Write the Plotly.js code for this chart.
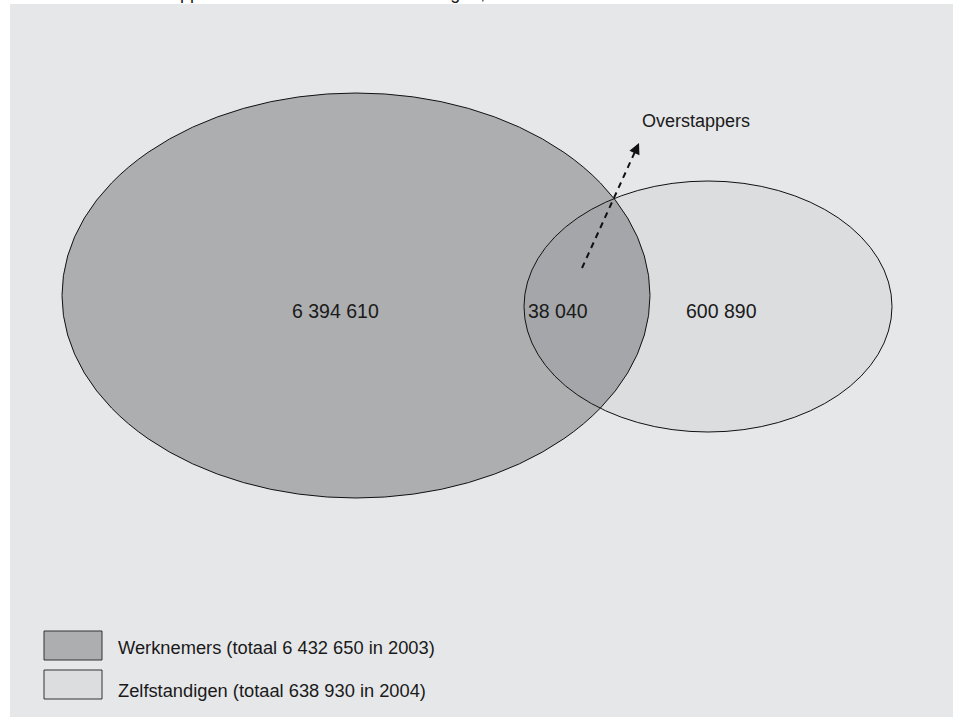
<!DOCTYPE html>
<html>
<head>
<meta charset="utf-8">
<script src="https://cdn.plot.ly/plotly-3.0.1.min.js"></script>
<style>
  html, body { margin: 0; padding: 0; background: #ffffff; }
  #chart { width: 953px; height: 717px; }
</style>
</head>
<body>
<div id="chart"></div>
<script>
// ---------- data ----------
const setNames = ['Werknemers', 'Zelfstandigen'];
const setTotals = [6432650, 638930];
const setYears = [2003, 2004];
// regions: only werknemers, both (overstappers), only zelfstandigen
const regionValues = [6394610, 38040, 600890];
const arrowLabel = 'Overstappers';
const chartTitle = 'Schema 3.1 Overstappers werknemers naar zelfstandigen, 2003 en 2004';

// ---------- geometry / styling (page-pixel coordinates) ----------
const geom = {
  big:   { x0: 62,  x1: 650, y0: 93,  y1: 498 },
  small: { x0: 524, x1: 892, y0: 181, y1: 432 },
  labelPos: [[335, 311], [558, 311], [721, 311]],
  arrowTail: [582, 268],
  arrowHead: [639, 143],
  arrowLabelPos: [696, 121],
  legendBoxes: [
    { x0: 44, x1: 102, y0: 631, y1: 660 },
    { x0: 44, x1: 102, y0: 670, y1: 699 }
  ],
  legendTextX: 116,
  legendTextY: [647, 690]
};
const colors = {
  bg: '#e6e7e9', big: '#adaeb0', small: '#dcdddf', overlap: '#a4a6a9',
  line: '#111111', text: '#1a1a1a'
};
const FONT = 'Liberation Sans, Arial, Helvetica, sans-serif';

function fmt(n) { return String(n).replace(/\B(?=(\d{3})+(?!\d))/g, ' '); }

function ell(e) {
  return { cx: (e.x0 + e.x1) / 2, cy: (e.y0 + e.y1) / 2, a: (e.x1 - e.x0) / 2, b: (e.y1 - e.y0) / 2 };
}
function inside(E, x, y) {
  const dx = (x - E.cx) / E.a, dy = (y - E.cy) / E.b;
  return dx * dx + dy * dy <= 1;
}
// overlap polygon (intersection of two convex ellipses)
const EB = ell(geom.big), ES = ell(geom.small);
let pts = [];
const N = 1440;
for (let i = 0; i < N; i++) {
  const t = 2 * Math.PI * i / N;
  const xb = EB.cx + EB.a * Math.cos(t), yb = EB.cy + EB.b * Math.sin(t);
  if (inside(ES, xb, yb)) pts.push([xb, yb]);
  const xs = ES.cx + ES.a * Math.cos(t), ys = ES.cy + ES.b * Math.sin(t);
  if (inside(EB, xs, ys)) pts.push([xs, ys]);
}
let mx = 0, my = 0;
pts.forEach(p => { mx += p[0]; my += p[1]; });
mx /= pts.length; my /= pts.length;
pts.sort((p, q) => Math.atan2(p[1] - my, p[0] - mx) - Math.atan2(q[1] - my, q[0] - mx));
pts.push(pts[0]);

// arrow shaft (dashed) stops short of the head
const [tx, ty] = geom.arrowTail, [hx, hy] = geom.arrowHead;
const len = Math.hypot(hx - tx, hy - ty);
const ux = (tx - hx) / len, uy = (ty - hy) / len;
const headLen = 10;

const traces = [
  {
    type: 'scatter', mode: 'lines', x: pts.map(p => p[0]), y: pts.map(p => p[1]),
    fill: 'toself', fillcolor: colors.overlap, line: { width: 0 }, hoverinfo: 'skip', showlegend: false
  },
  {
    type: 'scatter', mode: 'lines',
    x: [tx, hx + ux * headLen], y: [ty, hy + uy * headLen],
    line: { color: colors.line, width: 2, dash: '6px,5px' }, hoverinfo: 'skip', showlegend: false
  }
];

const shapes = [
  Object.assign({ type: 'circle', xref: 'x', yref: 'y', layer: 'below', fillcolor: colors.big, line: { width: 0 } }, geom.big),
  Object.assign({ type: 'circle', xref: 'x', yref: 'y', layer: 'below', fillcolor: colors.small, line: { width: 0 } }, geom.small),
  Object.assign({ type: 'circle', xref: 'x', yref: 'y', layer: 'above', fillcolor: 'rgba(0,0,0,0)', line: { color: colors.line, width: 1 } }, geom.big),
  Object.assign({ type: 'circle', xref: 'x', yref: 'y', layer: 'above', fillcolor: 'rgba(0,0,0,0)', line: { color: colors.line, width: 1 } }, geom.small)
];
const legendFills = [colors.big, colors.small];
geom.legendBoxes.forEach((b, i) => {
  shapes.push(Object.assign({ type: 'rect', xref: 'x', yref: 'y', layer: 'above', fillcolor: legendFills[i],
    line: { color: '#333333', width: 1 } }, b));
});

const annotations = [];
regionValues.forEach((v, i) => {
  annotations.push({ x: geom.labelPos[i][0], y: geom.labelPos[i][1], xref: 'x', yref: 'y', text: fmt(v),
    showarrow: false, font: { family: FONT, size: 19.5, color: colors.text }, xanchor: 'center', yanchor: 'middle' });
});
annotations.push({ x: geom.arrowLabelPos[0], y: geom.arrowLabelPos[1], xref: 'x', yref: 'y', text: arrowLabel,
  showarrow: false, font: { family: FONT, size: 18, color: colors.text }, xanchor: 'center', yanchor: 'middle' });
// arrow head
annotations.push({ x: hx, y: hy, xref: 'x', yref: 'y', text: '', showarrow: true,
  ax: ux * (headLen + 2), ay: uy * (headLen + 2), arrowhead: 2, arrowsize: 1.1, arrowwidth: 2, arrowcolor: colors.line });
setNames.forEach((n, i) => {
  annotations.push({ x: geom.legendTextX, y: geom.legendTextY[i], xref: 'x', yref: 'y',
    text: n + ' (totaal ' + fmt(setTotals[i]) + ' in ' + setYears[i] + ')',
    showarrow: false, font: { family: FONT, size: 18.3, color: colors.text }, xanchor: 'left', yanchor: 'middle' });
});
// title, cut off at the very top of the picture as in the reference
annotations.push({ x: 0, y: 1, xref: 'paper', yref: 'paper', text: chartTitle, showarrow: false,
  xshift: 4, yshift: -1,
  font: { family: FONT, size: 18, color: colors.text }, xanchor: 'left', yanchor: 'bottom' });

const layout = {
  width: 953, height: 717,
  margin: { l: 10, r: 0, t: 4, b: 0, pad: 0 },
  paper_bgcolor: '#ffffff', plot_bgcolor: colors.bg,
  xaxis: { range: [10, 953], visible: false, showgrid: false, zeroline: false, fixedrange: true },
  yaxis: { range: [717, 4], visible: false, showgrid: false, zeroline: false, fixedrange: true },
  shapes: shapes, annotations: annotations, showlegend: false
};

Plotly.newPlot('chart', traces, layout, { staticPlot: true, displayModeBar: false });
</script>
</body>
</html>
